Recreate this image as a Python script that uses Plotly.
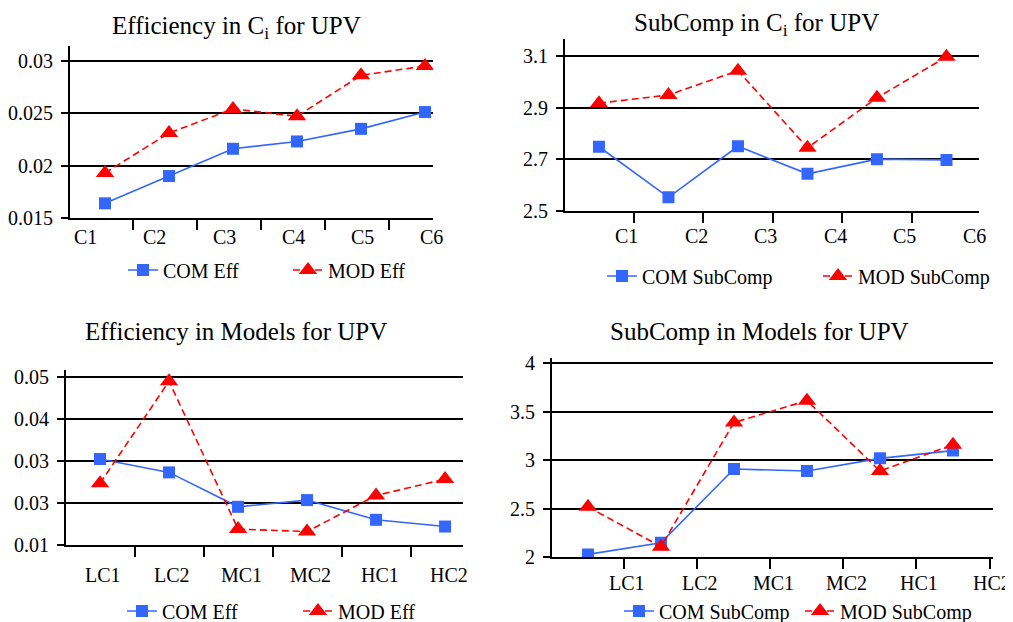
import plotly.graph_objects as go

# ---------------- data ----------------
ci_labels = ["C1", "C2", "C3", "C4", "C5", "C6"]
model_labels = ["LC1", "LC2", "MC1", "MC2", "HC1", "HC2"]

com_eff_ci = [0.0164, 0.0190, 0.0216, 0.0223, 0.0235, 0.0251]
mod_eff_ci = [0.0193, 0.0231, 0.0254, 0.0247, 0.0286, 0.0295]

com_sub_ci = [2.748, 2.552, 2.750, 2.643, 2.700, 2.697]
mod_sub_ci = [2.917, 2.949, 3.043, 2.744, 2.938, 3.097]

com_eff_models = [0.0305, 0.0273, 0.0191, 0.0207, 0.0160, 0.0144]
mod_eff_models = [0.0247, 0.0490, 0.0138, 0.0132, 0.0218, 0.0257]

com_sub_models = [2.03, 2.15, 2.91, 2.89, 3.02, 3.10]
mod_sub_models = [2.52, 2.11, 3.39, 3.615, 2.89, 3.16]

eff_ci_ticks = [0.015, 0.02, 0.025, 0.03]
eff_ci_ticktext = ["0.015", "0.02", "0.025", "0.03"]
sub_ci_ticks = [2.5, 2.7, 2.9, 3.1]
sub_ci_ticktext = ["2.5", "2.7", "2.9", "3.1"]
eff_models_ticks = [0.01, 0.02, 0.03, 0.04, 0.05]
eff_models_ticktext = ["0.01", "0.03", "0.03", "0.04", "0.05"]
sub_models_ticks = [2, 2.5, 3, 3.5, 4]
sub_models_ticktext = ["2", "2.5", "3", "3.5", "4"]

# ---------------- style ----------------
BLUE = "#3366FF"
RED = "#FF0000"
FONT = "Liberation Serif, Times New Roman, Times, DejaVu Serif, serif"
PAGE_W, PAGE_H = 1013, 622
OFF = 8                      # default page body margin
W, H = PAGE_W - OFF, PAGE_H - OFF


def px(X):
    """page pixel x -> paper fraction"""
    return (X - OFF) / W


def py(Y):
    """page pixel y (from top) -> paper fraction"""
    return 1 - (Y - OFF) / H


panels = [
    dict(name="1", com=com_eff_ci, mod=mod_eff_ci, cats=ci_labels,
         com_name="COM Eff", mod_name="MOD Eff",
         title="Efficiency in C<sub>i</sub> for UPV", title_xy=(236, 27),
         xdom=(70, 433), ydom=(218, 46), xr=(-0.547, 5.125),
         yr=(0.015, 0.0314), yt=eff_ci_ticks, ytt=eff_ci_ticktext,
         tick_off=-0.5625, ntick=6, lab_off=-0.30, lab_scale=1.08, lab_y=237,
         leg_x=163, leg_y=270, entry=120),
    dict(name="2", com=com_sub_ci, mod=mod_sub_ci, cats=ci_labels,
         com_name="COM SubComp", mod_name="MOD SubComp",
         title="SubComp in C<sub>i</sub> for UPV", title_xy=(756, 24),
         xdom=(565, 979), ydom=(210.7, 39), xr=(-0.489, 5.468),
         yr=(2.5, 3.166), yt=sub_ci_ticks, ytt=sub_ci_ticktext,
         tick_off=-0.5, ntick=7, lab_off=0.40, lab_scale=1.0, lab_y=236,
         leg_x=642, leg_y=276, entry=171),
    dict(name="3", com=com_eff_models, mod=mod_eff_models, cats=model_labels,
         com_name="COM Eff", mod_name="MOD Eff",
         title="Efficiency in Models for UPV", title_xy=(236, 331),
         xdom=(66, 463), ydom=(545, 370), xr=(-0.493, 5.26),
         yr=(0.01, 0.0517), yt=eff_models_ticks, ytt=eff_models_ticktext,
         tick_off=-0.5, ntick=6, lab_off=0.05, lab_scale=1.0, lab_y=575,
         leg_x=162, leg_y=611, entry=131),
    dict(name="4", com=com_sub_models, mod=mod_sub_models, cats=model_labels,
         com_name="COM SubComp", mod_name="MOD SubComp",
         title="SubComp in Models for UPV", title_xy=(759, 331),
         xdom=(552, 993), ydom=(557.3, 357.7), xr=(-0.493, 5.548),
         yr=(2.0, 4.058), yt=sub_models_ticks, ytt=sub_models_ticktext,
         tick_off=-0.5, ntick=7, lab_off=0.54, lab_scale=1.0, lab_y=583,
         leg_x=659, leg_y=611, entry=136),
]

fig = go.Figure()
layout = dict(
    width=W, height=H,
    margin=dict(l=0, r=0, t=0, b=0, pad=0, autoexpand=False),
    paper_bgcolor="white", plot_bgcolor="white",
    font=dict(family=FONT, size=20, color="black"),
    showlegend=True, annotations=[],
)

for p in panels:
    n = p["name"]
    xa = "x" if n == "1" else "x" + n
    ya = "y" if n == "1" else "y" + n
    xkey = "xaxis" if n == "1" else "xaxis" + n
    ykey = "yaxis" if n == "1" else "yaxis" + n
    lkey = "legend" if n == "1" else "legend" + n
    idx = list(range(len(p["com"])))

    fig.add_trace(go.Scatter(
        x=idx, y=p["com"], xaxis=xa, yaxis=ya, mode="lines+markers",
        name=p["com_name"], legend=lkey,
        line=dict(color=BLUE, width=1.6),
        marker=dict(symbol="square", size=12, color=BLUE)))
    fig.add_trace(go.Scatter(
        x=idx, y=p["mod"], xaxis=xa, yaxis=ya, mode="lines+markers",
        name=p["mod_name"], legend=lkey,
        line=dict(color=RED, width=1.6, dash="7px,4px"),
        marker=dict(symbol="triangle-up", size=16, color=RED)))

    layout[xkey] = dict(
        domain=(px(p["xdom"][0]), px(p["xdom"][1])), range=list(p["xr"]), anchor=ya,
        showline=True, linecolor="black", linewidth=2,
        showgrid=False, zeroline=False,
        ticks="outside", ticklen=10, tickwidth=2, tickcolor="black",
        tickvals=[i + p["tick_off"] for i in range(p["ntick"])],
        showticklabels=False,
    )
    layout[ykey] = dict(
        domain=(py(p["ydom"][0]), py(p["ydom"][1])), range=list(p["yr"]), anchor=xa,
        showline=True, linecolor="black", linewidth=2,
        showgrid=True, gridcolor="black", gridwidth=1.5,
        zeroline=False,
        ticks="outside", ticklen=7, tickwidth=1.5, tickcolor="black",
        tickvals=p["yt"], ticktext=p["ytt"],
        tickfont=dict(family=FONT, size=20, color="black"),
        ticklabelstandoff=4,
    )
    layout[lkey] = dict(
        orientation="h", x=px(p["leg_x"] - 40), y=py(p["leg_y"]),
        xanchor="left", yanchor="middle", bgcolor="rgba(0,0,0,0)",
        font=dict(family=FONT, size=20, color="black"),
        itemsizing="trace", entrywidth=p["entry"], entrywidthmode="pixels",
    )
    # category labels under each x axis
    for i, c in enumerate(p["cats"]):
        layout["annotations"].append(dict(
            text=c, x=i * p["lab_scale"] + p["lab_off"], xref=xa,
            y=py(p["lab_y"]), yref="paper",
            xanchor="center", yanchor="middle", showarrow=False,
            font=dict(family=FONT, size=20, color="black")))
    layout["annotations"].append(dict(
        text=p["title"], x=px(p["title_xy"][0]), y=py(p["title_xy"][1]),
        xref="paper", yref="paper", xanchor="center", yanchor="middle",
        showarrow=False, font=dict(family=FONT, size=25, color="black")))

fig.update_layout(**layout)
fig.write_html("out.html")
